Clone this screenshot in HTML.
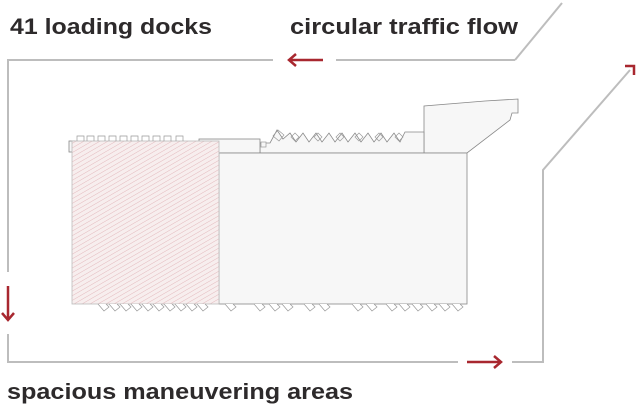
<!DOCTYPE html>
<html><head><meta charset="utf-8"><style>
html,body{margin:0;padding:0;background:#fff;}
svg{display:block}
text{font-family:"Liberation Sans",sans-serif;font-weight:bold;fill:#2d2a2b;font-size:22px;}
</style></head><body>
<svg width="638" height="408" viewBox="0 0 638 408" xmlns="http://www.w3.org/2000/svg">
<defs>
<pattern id="h" width="4" height="4" patternUnits="userSpaceOnUse" patternTransform="rotate(60)">
<rect width="4" height="4" fill="#f7eeee"/><line x1="0" y1="0" x2="0" y2="4" stroke="#e3b9bd" stroke-width="1"/>
</pattern>
</defs>
<text x="10" y="34" textLength="202" lengthAdjust="spacingAndGlyphs">41 loading docks</text>
<text x="290" y="34" textLength="228" lengthAdjust="spacingAndGlyphs">circular traffic flow</text>
<text x="7" y="399" textLength="346" lengthAdjust="spacingAndGlyphs">spacious maneuvering areas</text>
<g fill="none" stroke="#bdbdbd" stroke-width="2">
<polyline points="273,60 8,60 8,272"/>
<polyline points="8,334 8,362 458,362"/>
<polyline points="515,60 336,60"/>
<polyline points="515,60 562,3"/>
<polyline points="512,362 543,362 543,170 630,70"/>
</g>
<g fill="none" stroke="#a8272f" stroke-width="2.5">
<line x1="289" y1="60" x2="323" y2="60"/><polyline points="296,54 289,60 296,66"/>
<line x1="8" y1="286" x2="8" y2="320"/><polyline points="2,313 8,320 14,313"/>
<line x1="467" y1="362" x2="501" y2="362"/><polyline points="494,356 501,362 494,368"/>
<polyline points="625,66 634,66 634,75"/>
</g>
<g stroke="#888" stroke-width="0.8" fill="#f7f7f7">
<path d="M424,153 V106 L485,101 L518,99 V113 L512,113 L510,120 L467,153 Z"/>
<path d="M260,153 V143 L270,143 L277,130 L283,139 L290,133 L296,142 L303,133 L309,142 L316,133 L322,142 L329,133 L335,142 L342,133 L348,142 L355,133 L361,142 L368,133 L374,142 L381,133 L387,142 L394,133 L400,142 L405,132 L424,132 V153 Z"/>
<rect x="199" y="139" width="61" height="14"/>
<rect x="219" y="153" width="248" height="151"/>
<rect x="69" y="141" width="6" height="11"/>
</g>
<rect x="72" y="141" width="147" height="163" fill="url(#h)" stroke="#bbb" stroke-width="0.8"/>
<g fill="none" stroke="#999" stroke-width="0.7">
<path d="M77,141 v-5 h7 v5 M87,141 v-5 h7 v5 M98,141 v-5 h7 v5 M109,141 v-5 h7 v5 M120,141 v-5 h7 v5 M131,141 v-5 h7 v5 M142,141 v-5 h7 v5 M153,141 v-5 h7 v5 M164,141 v-5 h7 v5 M176,141 v-5 h7 v5"/>
<rect x="261" y="142" width="5" height="5" fill="#f7f7f7"/>
<path d="M273,136 l5,-6 l6,5 l-5,6 z M291,137 l4,-4 l4,4 l-4,4 z M314,137 l4,-4 l4,4 l-4,4 z M336,137 l4,-4 l4,4 l-4,4 z M355,137 l4,-4 l4,4 l-4,4 z M375,137 l4,-4 l4,4 l-4,4 z M395,137 l4,-4 l4,4 l-4,4 z"/>
</g>
<g fill="#fff" stroke="#999" stroke-width="0.7">
<path d="M98,304 l6,7 l5,-4 l-3,-3 M109,304 l6,7 l5,-4 l-3,-3 M120,304 l6,7 l5,-4 l-3,-3 M131,304 l6,7 l5,-4 l-3,-3 M142,304 l6,7 l5,-4 l-3,-3 M153,304 l6,7 l5,-4 l-3,-3 M164,304 l6,7 l5,-4 l-3,-3 M175,304 l6,7 l5,-4 l-3,-3 M186,304 l6,7 l5,-4 l-3,-3 M197,304 l6,7 l5,-4 l-3,-3 M225,304 l6,7 l5,-4 l-3,-3 M254,304 l6,7 l5,-4 l-3,-3 M269,304 l6,7 l5,-4 l-3,-3 M282,304 l6,7 l5,-4 l-3,-3 M304,304 l6,7 l5,-4 l-3,-3 M319,304 l6,7 l5,-4 l-3,-3 M352,304 l6,7 l5,-4 l-3,-3 M366,304 l6,7 l5,-4 l-3,-3 M386,304 l6,7 l5,-4 l-3,-3 M399,304 l6,7 l5,-4 l-3,-3 M412,304 l6,7 l5,-4 l-3,-3 M426,304 l6,7 l5,-4 l-3,-3 M439,304 l6,7 l5,-4 l-3,-3 M452,304 l6,7 l5,-4 l-3,-3"/>
</g>
</svg>
</body></html>
